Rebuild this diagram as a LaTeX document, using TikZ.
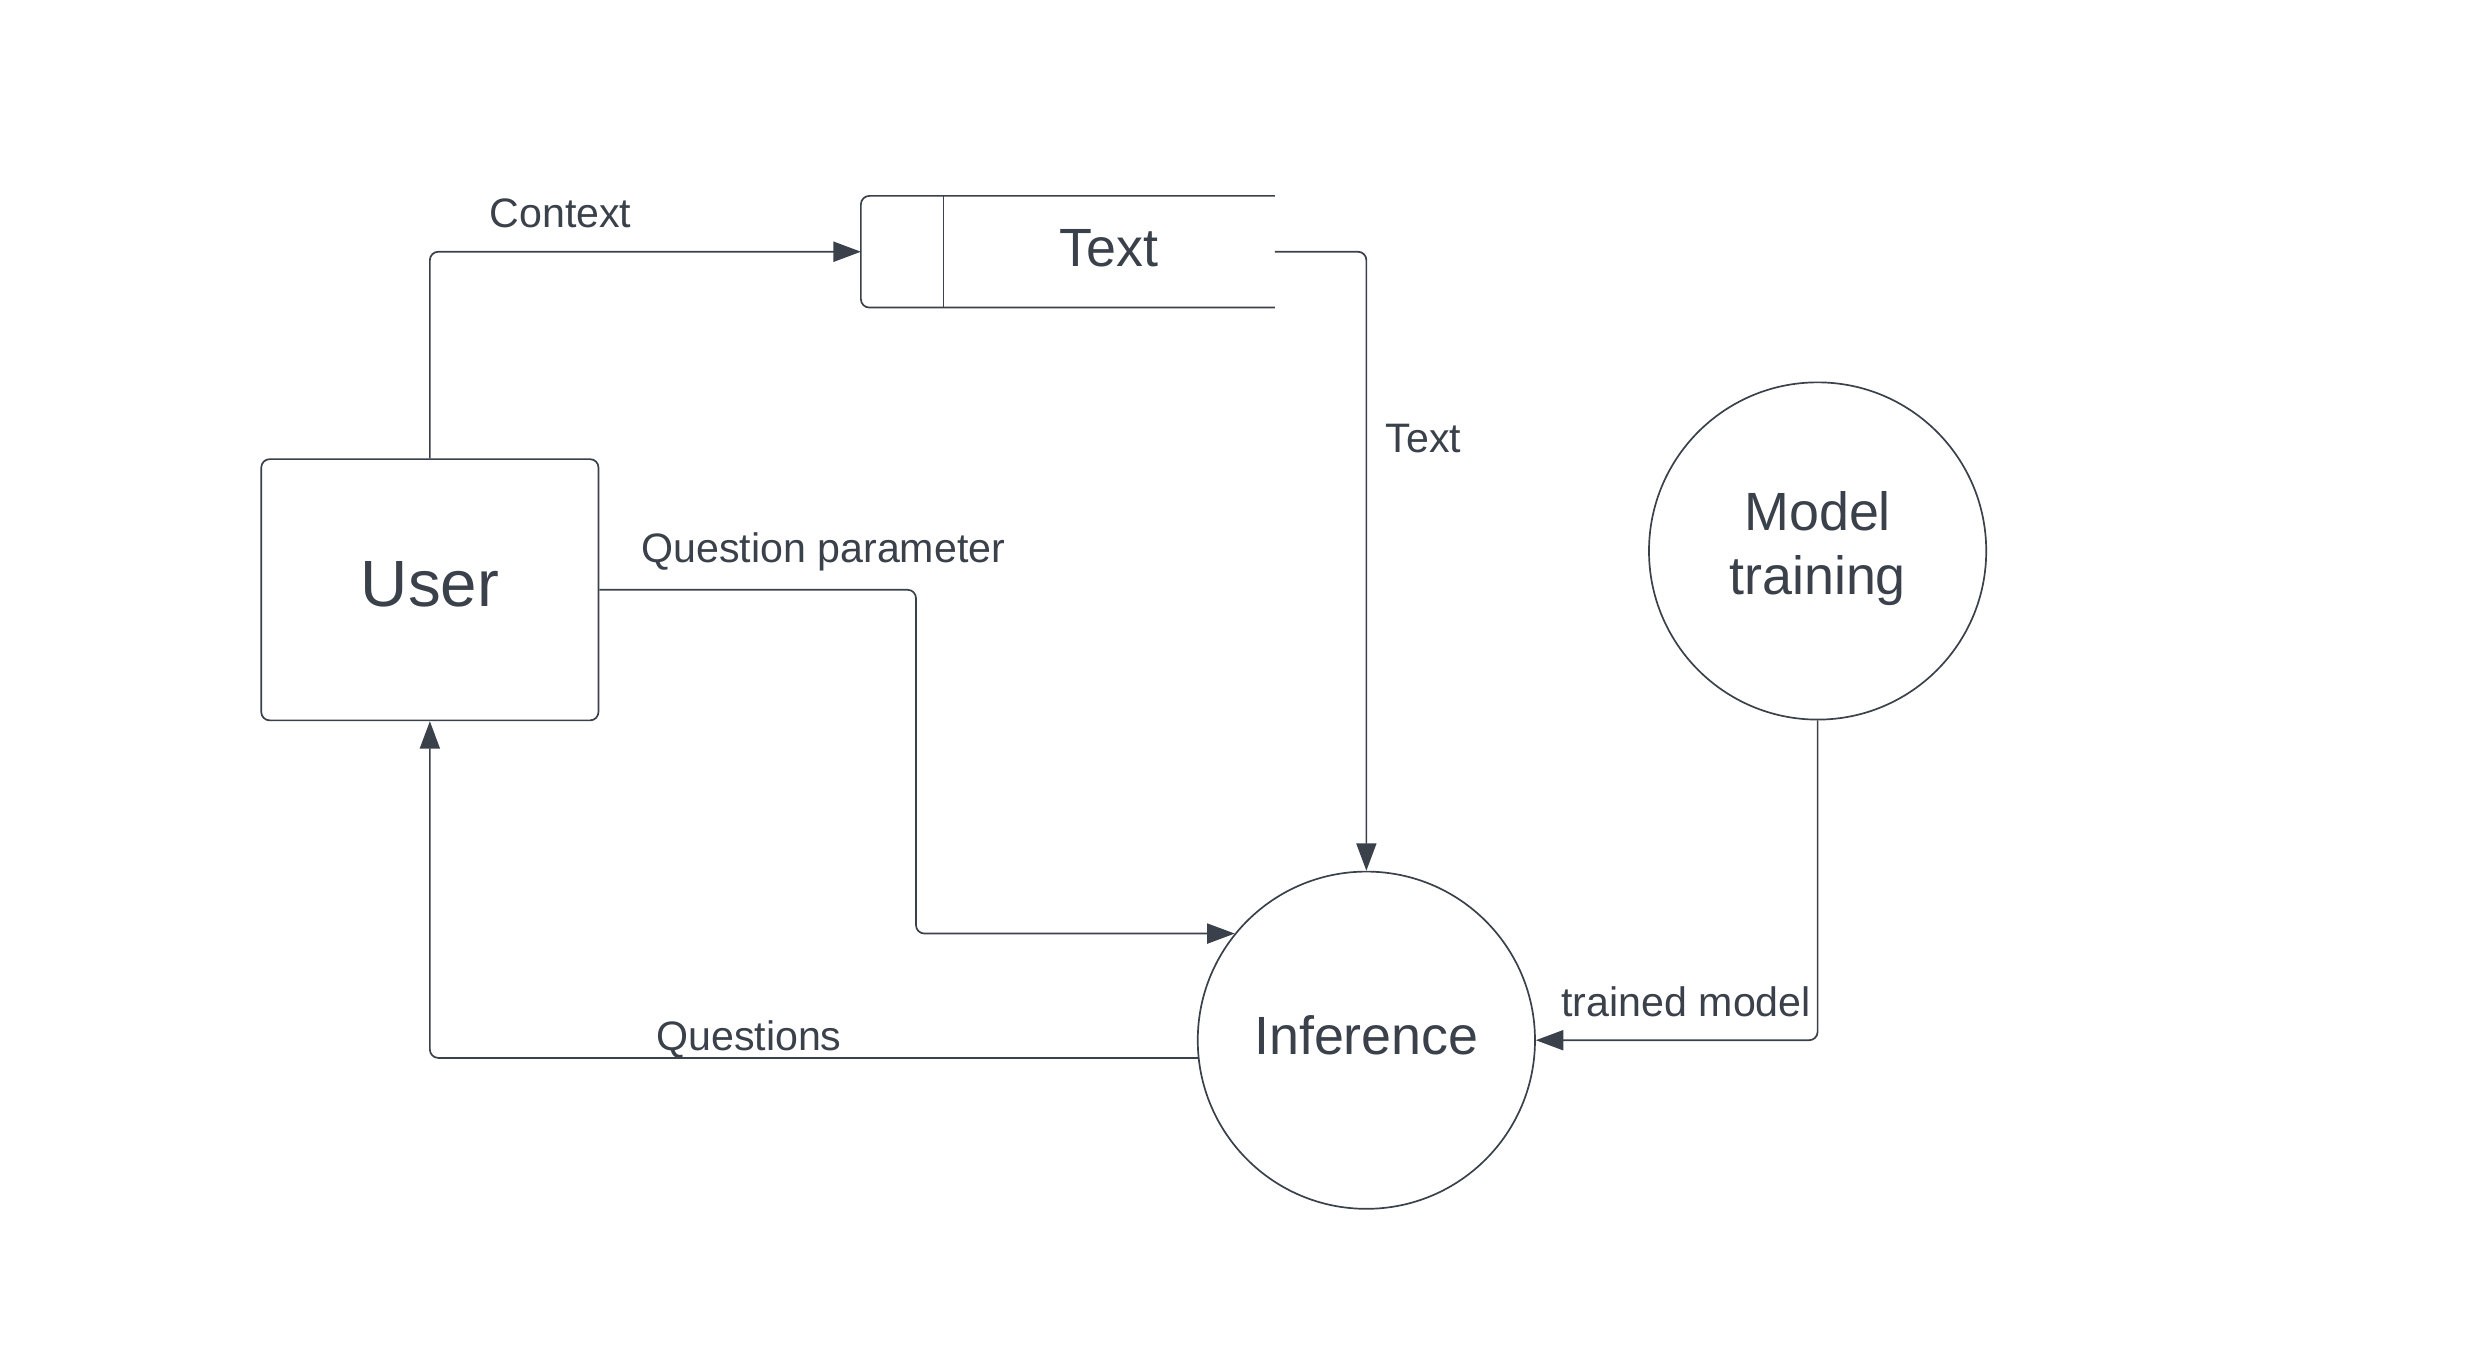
\documentclass[tikz,border=0pt]{standalone}
\usepackage{fontspec}
\setmainfont{Liberation Sans}
\usetikzlibrary{arrows.meta}
\definecolor{ink}{HTML}{3A414A}
\begin{document}
\begin{tikzpicture}[x=0.75pt,y=-0.75pt,
  every node/.style={text=ink, inner sep=0pt},
  line/.style={draw=ink, line width=0.8pt},
  conn/.style={line, rounded corners=4pt, -{Triangle[length=13pt,width=9.5pt]}},
  big/.style={font=\fontsize{25.5}{30.75}\selectfont},
  lbl/.style={font=\fontsize{19.5}{23}\selectfont},
  proc/.style={line, circle, minimum size=159.75pt, big, align=center}
]
\useasboundingbox[fill=white] (0,0) rectangle (1567,858.4);

\node[line, rounded corners=4pt, minimum width=159.75pt, minimum height=123.75pt,
      font=\fontsize{31}{36}\selectfont] (user) at (271.5,372.5) {};
\node (usertext) at (271.5,369) {\fontsize{31}{36}\selectfont User};

\node[minimum width=195.75pt, minimum height=52.5pt] (store) at (674.5,159) {};
\draw[line, rounded corners=4pt] (store.north east) -- (store.north west) -- (store.south west) -- (store.south east);
\coordinate (divtop) at (596,124);
\coordinate (divbot) at (596,194);
\draw[line] (divtop) -- (divbot);
\node[big] (storetext) at (700.5,157) {Text};

\node[proc] (inf) at (863,657) {};
\node[big] (inftext) at (863,654) {Inference};

\node[proc] (mt) at (1148,348) {};
\node[big, align=center] (mttext) at (1148,346.5) {Model\\training};

\draw[conn] (user.north) |- (store.west);
\draw[conn] (store.east) -| (inf.north);
\draw[conn] (user.east) -- ++(200,0) |- (inf.141.2);
\draw[conn] (inf.186.6) -| (user.south);
\draw[conn] (mt.south) |- (inf.east);

\node[lbl] (lctx) at (354,135) {Context};
\node[lbl] (ltext) at (899,277) {Text};
\node[lbl] (lqp) at (520,348.5) {Question parameter};
\node[lbl] (lq) at (473,656.5) {Questions};
\node[lbl] (ltm) at (1065,632.5) {trained model};
\end{tikzpicture}
\end{document}
